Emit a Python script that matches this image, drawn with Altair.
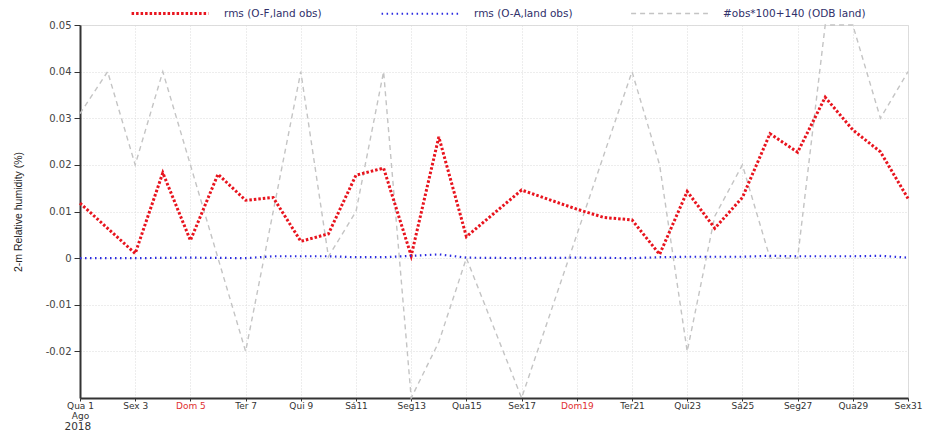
import altair as alt
import pandas as pd

# Series names (legend order)
S_OF = "rms (O-F,land obs)"
S_OA = "rms (O-A,land obs)"
S_NOBS = "#obs*100+140 (ODB land)"

# rms of O-F (day of August 2018 -> value)
of_days = [1, 3, 4, 5, 6, 7, 8, 9, 10, 11, 12, 13, 14, 15, 17, 19, 20, 21,
           22, 23, 24, 25, 26, 27, 28, 29, 30, 31]
of_vals = [0.0118, 0.001, 0.0183, 0.0038, 0.018, 0.0124, 0.013, 0.0036, 0.0052,
           0.0178, 0.0193, 0.0005, 0.026, 0.0046, 0.0146, 0.0105, 0.0087, 0.0082,
           0.0008, 0.0143, 0.0064, 0.013, 0.0267, 0.0227, 0.0345, 0.0275, 0.0228,
           0.0128]

# rms of O-A
oa_days = [1, 3, 5, 7, 8, 9, 10, 11, 12, 13, 14, 15, 17, 19, 21, 22, 23, 25,
           26, 27, 29, 30, 31]
oa_vals = [0.0, 0.0, 0.0001, 0.0, 0.0004, 0.0004, 0.0004, 0.0002, 0.0002, 0.0005,
           0.0008, 0.0001, 0.0, 0.0001, 0.0, 0.0002, 0.0003, 0.0003, 0.0005,
           0.0004, 0.0004, 0.0005, 0.0001]

# number of observations, scaled
nobs_days = [1, 2, 3, 4, 7, 9, 10, 11, 12, 13, 14, 15, 17, 21, 22, 23, 24, 25,
             26, 27, 28, 29, 30, 31]
nobs_vals = [0.031, 0.04, 0.02, 0.04, -0.02, 0.04, 0.0003, 0.01, 0.04, -0.03,
             -0.018, 0.0, -0.03, 0.04, 0.02, -0.02, 0.009, 0.02, 0.0, 0.0,
             0.05, 0.05, 0.03, 0.04]

# x-axis tick labels (every other day)
tick_days = [1, 3, 5, 7, 9, 11, 13, 15, 17, 19, 21, 23, 25, 27, 29, 31]
tick_labels = ["Qua 1", "Sex 3", "Dom 5", "Ter 7", "Qui 9", "Sá11", "Seg13",
               "Qua15", "Sex17", "Dom19", "Ter21", "Qui23", "Sá25", "Seg27",
               "Qua29", "Sex31"]
sunday_days = [5, 19]
y_ticks = [-0.02, -0.01, 0.0, 0.01, 0.02, 0.03, 0.04, 0.05]

rows = []
for d, v in zip(nobs_days, nobs_vals):
    rows.append({"day": d, "value": v, "series": S_NOBS})
for d, v in zip(of_days, of_vals):
    rows.append({"day": d, "value": v, "series": S_OF})
for d, v in zip(oa_days, oa_vals):
    rows.append({"day": d, "value": v, "series": S_OA})
df = pd.DataFrame(rows)

# label lookup array indexed by day number; first label carries the month
lab = ["''"] * 32
for d, t in zip(tick_days, tick_labels):
    lab[d] = "'" + t + "'"
lab[1] = "['Qua 1','Ago']"
label_expr = "[" + ",".join(lab) + "][datum.value]"
sun_test = " || ".join(f"datum.value == {d}" for d in sunday_days)

domain = [S_OF, S_OA, S_NOBS]
leg = alt.Legend(
    title=None, orient="none", legendX=50, legendY=-51.5, direction="horizontal",
    symbolType="stroke", symbolSize=5900, labelOffset=14, columnPadding=55,
    labelFontSize=10.5, labelFont="DejaVu Sans", labelColor="#30306a",
    labelLimit=300,
)

chart = alt.Chart(df).mark_line(interpolate="linear").encode(
    x=alt.X(
        "day:Q",
        scale=alt.Scale(domain=[1, 31], nice=False, zero=False),
        axis=alt.Axis(
            values=tick_days, labelExpr=label_expr, title="2018",
            titleFontSize=10.5, titleFont="DejaVu Sans", titleFontWeight="normal",
            titleColor="#333", titleX=-16, titleY=28, titleAlign="left",
            titleBaseline="middle", titleAnchor="start",
            labelFontSize=9, labelFont="DejaVu Sans", labelFlush=False,
            labelColor=alt.condition(sun_test, alt.value("#e03030"), alt.value("#333")),
            labelPadding=0, tickSize=3, labelLineHeight=10,
            grid=True, gridDash=[1, 2], gridColor="#dadada",
            domainColor="#333", domainWidth=2, tickColor="#333",
        ),
    ),
    y=alt.Y(
        "value:Q",
        scale=alt.Scale(domain=[-0.03, 0.05], nice=False, zero=False),
        axis=alt.Axis(
            values=y_ticks,
            labelExpr="replace(format(datum.value, '.2~f'), '\u2212', '-')",
            title="2-m Relative humidity (%)",
            titleFont="Liberation Sans Narrow, Liberation Sans",
            titleFontSize=10.5, titleFontWeight="normal", titleColor="#222",
            titlePadding=22,
            labelFontSize=10, labelFont="DejaVu Sans", labelColor="#444",
            labelPadding=3,
            tickSize=6, tickColor="#333", domainColor="#333", domainWidth=2,
            grid=True, gridDash=[1, 2], gridColor="#dadada",
        ),
    ),
    color=alt.Color("series:N", scale=alt.Scale(domain=domain,
                    range=["#e8141e", "#2a2ae0", "#c4c4c4"]), legend=leg),
    strokeDash=alt.StrokeDash("series:N", scale=alt.Scale(domain=domain,
                    range=[[2.5, 2], [1.5, 3.5], [5, 4]]), legend=leg),
    strokeWidth=alt.StrokeWidth("series:N", scale=alt.Scale(domain=domain,
                    range=[3, 1.4, 1.3]), legend=leg),
    detail="series:N",
).properties(
    width=828, height=373,
    autosize=alt.AutoSizeParams(type="none"),
    padding={"left": 80, "top": 25, "right": 18, "bottom": 33},
).configure_view(
    stroke="#666", strokeWidth=1.5,
).configure(background="white")

chart.save("out.html", embed_options={"renderer": "svg", "actions": False})
